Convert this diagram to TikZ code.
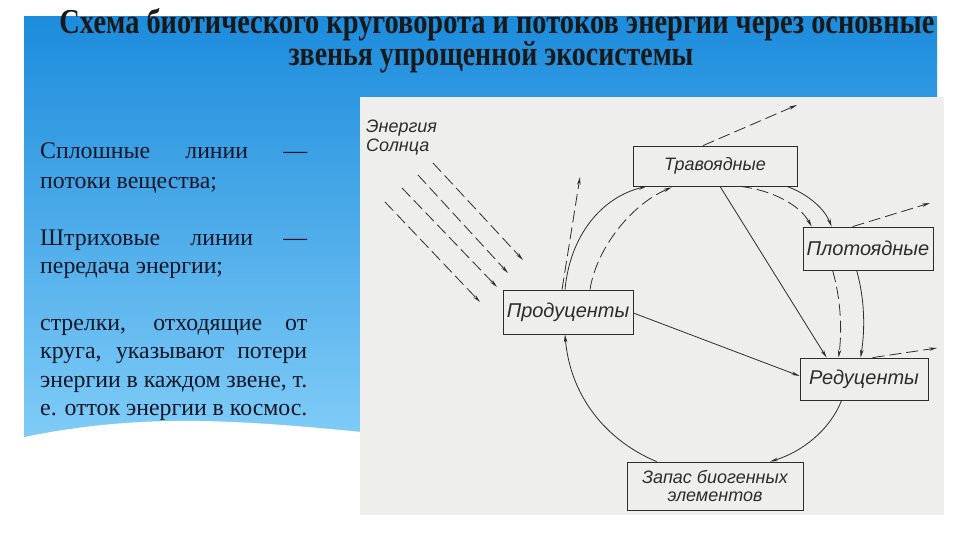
\documentclass[tikz,border=0pt]{standalone}
\usepackage{fontspec}
\setmainfont{Liberation Serif}
\newfontfamily\diagfont{Liberation Sans}
\usetikzlibrary{arrows.meta,calc}

\definecolor{bluetop}{RGB}{28,140,220}
\definecolor{bluebot}{RGB}{128,204,247}
\definecolor{scan}{RGB}{238,238,236}
\definecolor{ink}{RGB}{45,45,45}
\definecolor{txt}{RGB}{12,22,38}

\begin{document}
\begin{tikzpicture}[x=1pt,y=-1pt,
  box/.style={draw=ink,line width=0.8pt,inner sep=0pt,font=\diagfont\itshape\fontsize{20}{22}\selectfont,text=ink},
  flow/.style={draw=ink,line width=0.8pt,-{Stealth[length=8pt,width=3.5pt]}},
  energy/.style={flow,dash pattern=on 12pt off 5pt},
  lefttext/.style={anchor=base west,inner sep=0pt,font=\fontsize{23.8}{28}\selectfont,text=txt},
  titletext/.style={anchor=base,inner sep=0pt,font=\bfseries\fontsize{35}{36}\selectfont,text=black!90},
]
\useasboundingbox (0,0) rectangle (960,540);
\fill[white] (0,0) rectangle (960,540);
\shade[top color=bluetop,bottom color=bluebot] (24,17) rectangle (937,440);
\fill[white] (20,438) .. controls (80,425) and (140,420) .. (200,421) .. controls (260,422) and (320,428) .. (362,432) -- (362,445) -- (20,445) -- cycle;

% scanned figure background
\fill[scan] (360,97) rectangle (944,515);

% title
\node[titletext] (title1) at (497,34) {\resizebox{875pt}{\height}{Схема биотического круговорота и потоков энергии через основные}};
\node[titletext] (title2) at (491,66) {\resizebox{405pt}{\height}{звенья упрощенной экосистемы}};

% left text
\node[lefttext] (l1) at (40,159) {\makebox[267pt][s]{Сплошные линии —}};
\node[lefttext] (l2) at (40,188) {потоки вещества;};
\node[lefttext] (l3) at (40,245) {\makebox[267pt][s]{Штриховые линии —}};
\node[lefttext] (l4) at (40,273) {передача энергии;};
\node[lefttext] (l5) at (40,330) {\makebox[267pt][s]{стрелки, отходящие от}};
\node[lefttext] (l6) at (40,358) {\makebox[267pt][s]{круга, указывают потери}};
\node[lefttext] (l7) at (40,387) {\makebox[267pt][s]{энергии в каждом звене, т.}};
\node[lefttext] (l8) at (40,415) {е. отток энергии в космос.};

% diagram boxes
\node[box,minimum width=130pt,minimum height=44pt] (prod) at (568,312) {Продуценты};
\node[box,minimum width=164pt,minimum height=40pt,font=\diagfont\itshape\fontsize{18}{19}\selectfont] (herb) at (715,166) {Травоядные};
\node[box,minimum width=130pt,minimum height=43pt] (carn) at (868,248.5) {Плотоядные};
\node[box,minimum width=128pt,minimum height=42pt] (red) at (864,379) {Редуценты};
\node[box,minimum width=176pt,minimum height=48pt,align=center,font=\diagfont\itshape\fontsize{18}{18}\selectfont] (res) at (715,486) {Запас биогенных\\элементов};
\node[anchor=north west,inner sep=0pt,align=left,font=\diagfont\itshape\fontsize{18}{19}\selectfont,text=ink] (sun) at (366,120) {Энергия\\Солнца};

% free ends
\coordinate (lossP) at (580,177);
\coordinate (lossH) at (797,105);
\coordinate (lossC) at (930,203);
\coordinate (lossR) at (937,348);
\coordinate (r1s) at (433,163); \coordinate (r1e) at (523,260);
\coordinate (r2s) at (418,175); \coordinate (r2e) at (508,273);
\coordinate (r3s) at (402,188); \coordinate (r3e) at (497,287);
\coordinate (r4s) at (385,202); \coordinate (r4e) at (480,302);

% sun rays
\foreach \i in {1,2,3,4} \draw[energy] (r\i s) -- (r\i e);

% producers -> herbivores
\draw[flow] ($(prod.north)+(-3,0)$) .. controls (570,235) and (602,197) .. ($(herb.south west)+(14,0)$);
\draw[energy] ($(prod.north)+(22,0)$) .. controls (596,250) and (630,205) .. ($(herb.south west)+(39,1)$);
\draw[energy] ($(prod.north)+(-6,0)$) -- (lossP);

% herbivores -> carnivores
\draw[flow] ($(herb.south)+(72,0)$) .. controls (810,195) and (825,210) .. ($(carn.north west)+(29,0)$);
\draw[energy] ($(herb.south)+(25,0)$) .. controls (772,190) and (800,205) .. ($(carn.north west)+(9,0)$);
\draw[energy] ($(herb.north)+(-12,0)$) -- (lossH);
\draw[flow] ($(herb.south)+(5,0)$) -- ($(red.north west)+(27,0)$);

% carnivores -> reducers
\draw[energy] ($(carn.south west)+(30,0)$) .. controls (841,300) and (842,330) .. ($(red.north west)+(39,0)$);
\draw[flow] ($(carn.south west)+(54,0)$) .. controls (865,300) and (865,330) .. ($(red.north west)+(61,0)$);
\draw[energy] ($(carn.north west)+(50,0)$) -- (lossC);

% producers -> reducers
\draw[flow] ($(prod.east)+(0,1)$) -- ($(red.west)+(0,-3)$);
\draw[energy] ($(red.north west)+(73,0)$) -- (lossR);

% reducers -> reserve -> producers
\draw[flow] ($(red.south west)+(42,0)$) .. controls (830,430) and (802,452) .. ($(res.north)+(55,0)$);
\draw[flow] ($(res.north west)+(30,0)$) .. controls (605,440) and (570,395) .. ($(prod.south)+(-3,0)$);
\end{tikzpicture}
\end{document}
